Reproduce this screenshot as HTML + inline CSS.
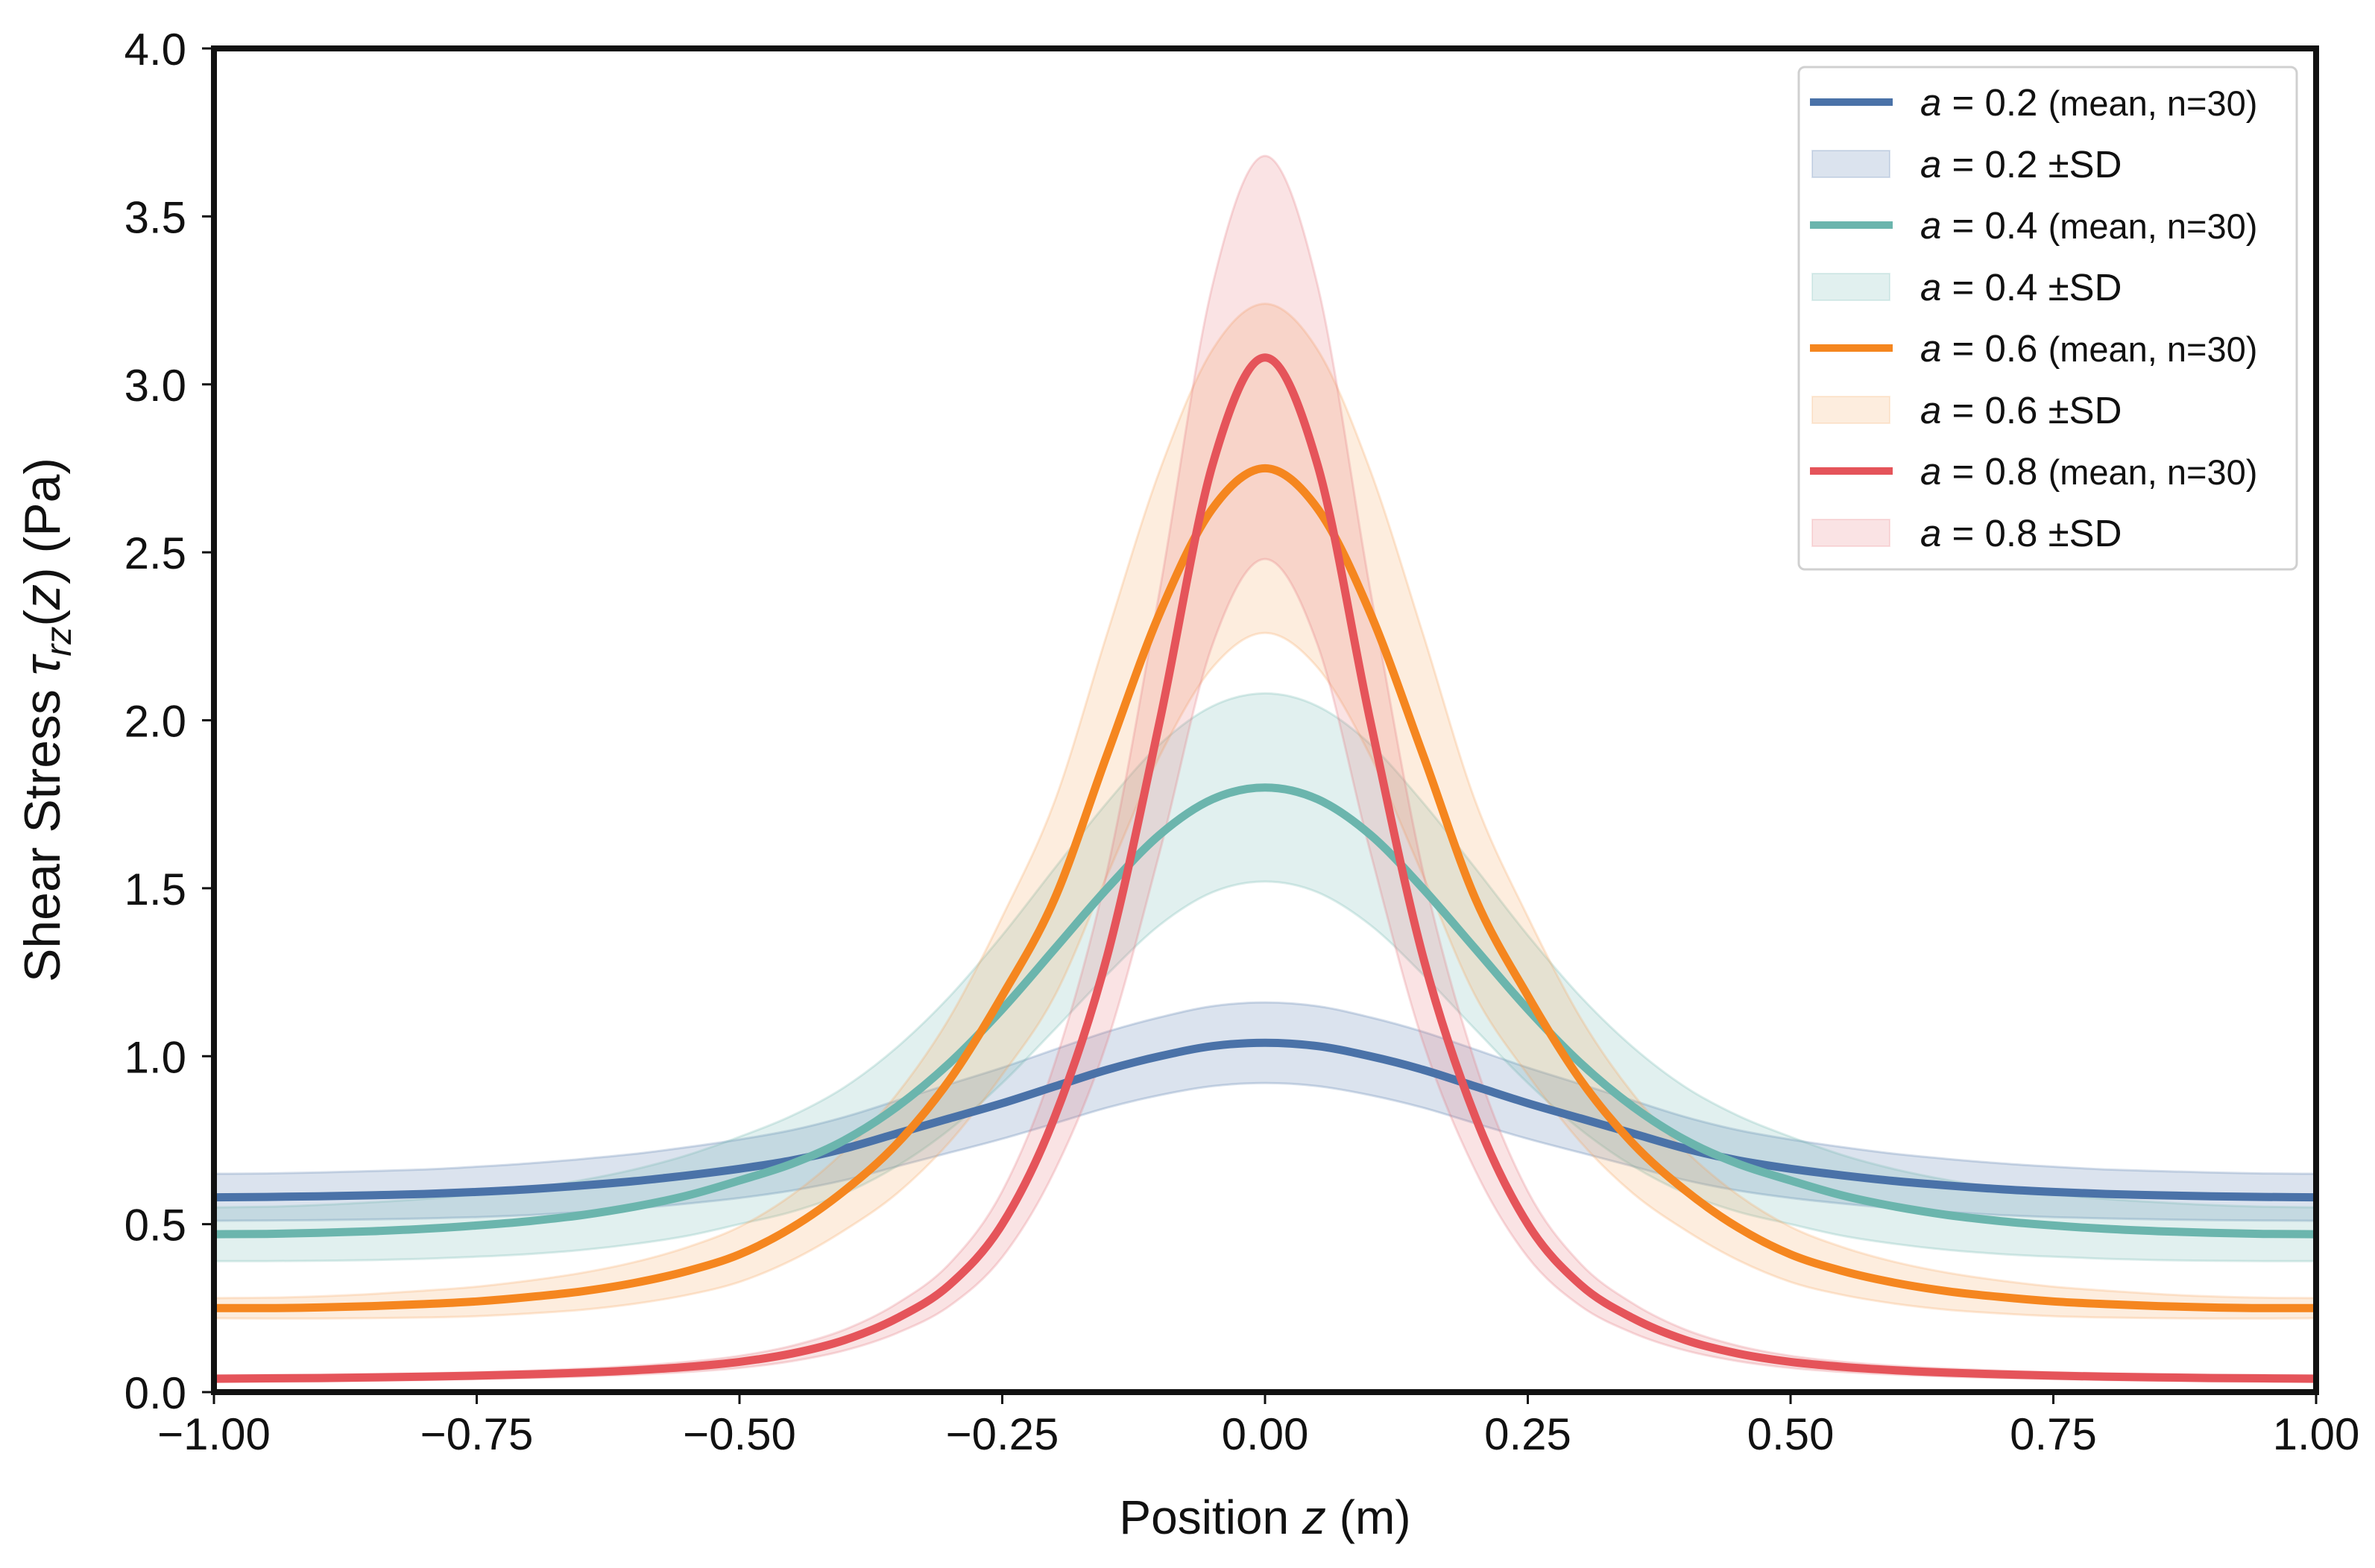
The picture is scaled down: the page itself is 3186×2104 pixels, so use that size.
<!DOCTYPE html>
<html><head><meta charset="utf-8">
<style>
html,body{margin:0;padding:0;background:#fff;}
svg{display:block;font-family:"Liberation Sans",Arial,sans-serif;}
</style></head>
<body>
<svg id="chart" width="3186" height="2104" viewBox="0 0 3186 2104" xmlns="http://www.w3.org/2000/svg">
<rect x="0" y="0" width="3186" height="2104" fill="#fff"/>
<g id="bands"></g>
<g id="lines"></g>
<g id="axes"></g>
<g id="legend"></g>
</svg>
<script>
const zValues = [-1,-0.95,-0.9,-0.85,-0.8,-0.75,-0.7,-0.65,-0.6,-0.55,-0.5,-0.45,-0.4,-0.35,-0.3,-0.25,-0.2,-0.15,-0.1,-0.05,0,0.05,0.1,0.15,0.2,0.25,0.3,0.35,0.4,0.45,0.5,0.55,0.6,0.65,0.7,0.75,0.8,0.85,0.9,0.95,1];
const meanA02 = [0.58,0.581,0.583,0.586,0.59,0.596,0.604,0.615,0.628,0.645,0.665,0.69,0.725,0.77,0.815,0.86,0.91,0.96,1.0,1.03,1.04,1.03,1.0,0.96,0.91,0.86,0.815,0.77,0.725,0.69,0.665,0.645,0.628,0.615,0.604,0.596,0.59,0.586,0.583,0.581,0.58];
const sdA02 = [0.07,0.07,0.071,0.072,0.073,0.075,0.077,0.079,0.081,0.084,0.087,0.09,0.094,0.098,0.102,0.106,0.11,0.113,0.116,0.119,0.12,0.119,0.116,0.113,0.11,0.106,0.102,0.098,0.094,0.09,0.087,0.084,0.081,0.079,0.077,0.075,0.073,0.072,0.071,0.07,0.07];
const meanA04 = [0.47,0.471,0.474,0.479,0.486,0.496,0.509,0.527,0.552,0.585,0.63,0.68,0.75,0.85,0.98,1.14,1.32,1.5,1.66,1.765,1.80,1.765,1.66,1.5,1.32,1.14,0.98,0.85,0.75,0.68,0.63,0.585,0.552,0.527,0.509,0.496,0.486,0.479,0.474,0.471,0.47];
const sdA04 = [0.08,0.081,0.083,0.086,0.089,0.093,0.098,0.104,0.111,0.12,0.13,0.143,0.158,0.177,0.198,0.22,0.24,0.256,0.269,0.277,0.28,0.277,0.269,0.256,0.24,0.22,0.198,0.177,0.158,0.143,0.13,0.12,0.111,0.104,0.098,0.093,0.089,0.086,0.083,0.081,0.08];
const meanA06 = [0.25,0.25,0.252,0.256,0.262,0.27,0.283,0.3,0.325,0.36,0.41,0.49,0.6,0.74,0.93,1.18,1.47,1.9,2.32,2.63,2.75,2.63,2.32,1.9,1.47,1.18,0.93,0.74,0.6,0.49,0.41,0.36,0.325,0.3,0.283,0.27,0.262,0.256,0.252,0.25,0.25];
const sdA06 = [0.03,0.031,0.033,0.036,0.04,0.044,0.049,0.055,0.062,0.071,0.082,0.097,0.118,0.148,0.185,0.235,0.29,0.36,0.425,0.473,0.49,0.473,0.425,0.36,0.29,0.235,0.185,0.148,0.118,0.097,0.082,0.071,0.062,0.055,0.049,0.044,0.04,0.036,0.033,0.031,0.03];
const meanA08 = [0.04,0.041,0.042,0.044,0.046,0.049,0.053,0.058,0.065,0.075,0.09,0.115,0.155,0.22,0.32,0.5,0.82,1.3,2.0,2.76,3.08,2.76,2.0,1.3,0.82,0.5,0.32,0.22,0.155,0.115,0.09,0.075,0.065,0.058,0.053,0.049,0.046,0.044,0.042,0.041,0.04];
const sdA08 = [0.01,0.01,0.01,0.01,0.01,0.01,0.011,0.012,0.013,0.015,0.018,0.023,0.031,0.044,0.063,0.098,0.16,0.255,0.39,0.535,0.6,0.535,0.39,0.255,0.16,0.098,0.063,0.044,0.031,0.023,0.018,0.015,0.013,0.012,0.011,0.01,0.01,0.01,0.01,0.01,0.01];
const seriesLabels = ["0.2","0.4","0.6","0.8"];
const xTickValues = [-1,-0.75,-0.5,-0.25,0,0.25,0.5,0.75,1];
const xTickLabels = ["\u22121.00","\u22120.75","\u22120.50","\u22120.25","0.00","0.25","0.50","0.75","1.00"];
const yTickValues = [0,0.5,1,1.5,2,2.5,3,3.5,4];
const yTickLabels = ["0.0","0.5","1.0","1.5","2.0","2.5","3.0","3.5","4.0"];

const NS = "http://www.w3.org/2000/svg";
const L = 287, R = 3107, T = 65, B = 1868;
const xMin = -1, xMax = 1, yMin = 0, yMax = 4;
function xs(v){ return L + (v - xMin) / (xMax - xMin) * (R - L); }
function ys(v){ return B - (v - yMin) / (yMax - yMin) * (B - T); }
function mk(tag, attrs, parent){ const e = document.createElementNS(NS, tag); for (const k in attrs) e.setAttribute(k, attrs[k]); if (parent) parent.appendChild(e); return e; }

// central-difference cubic with Fritsch-Carlson limiting
function tangents(pts){
  const n = pts.length, m = [];
  for (let i = 0; i < n-1; i++) m.push((pts[i+1][1]-pts[i][1])/(pts[i+1][0]-pts[i][0]));
  const t = [m[0]];
  for (let i = 1; i < n-1; i++) t.push(m[i-1]*m[i] <= 0 ? 0 : (m[i-1]+m[i])/2);
  t.push(m[n-2]);
  for (let i = 0; i < n-1; i++){
    if (m[i] === 0){ t[i] = 0; t[i+1] = 0; continue; }
    const a = t[i]/m[i], b = t[i+1]/m[i], s = a*a + b*b;
    if (s > 9){ const k = 3/Math.sqrt(s); t[i] = k*a*m[i]; t[i+1] = k*b*m[i]; }
  }
  return t;
}
function segs(pts, t){
  let d = "";
  for (let i = 0; i < pts.length-1; i++){
    const h = (pts[i+1][0]-pts[i][0])/3;
    d += "C" + (pts[i][0]+h).toFixed(1) + "," + (pts[i][1]+t[i]*h).toFixed(1) + " " + (pts[i+1][0]-h).toFixed(1) + "," + (pts[i+1][1]-t[i+1]*h).toFixed(1) + " " + pts[i+1][0].toFixed(1) + "," + pts[i+1][1].toFixed(1);
  }
  return d;
}
function smoothPath(pts){
  return "M" + pts[0][0].toFixed(1) + "," + pts[0][1].toFixed(1) + segs(pts, tangents(pts));
}
function reversePath(pts){
  const t = tangents(pts);
  const rp = pts.slice().reverse(), rt = t.slice().reverse();
  let d = "L" + rp[0][0].toFixed(1) + "," + rp[0][1].toFixed(1);
  for (let i = 0; i < rp.length-1; i++){
    const h = (rp[i+1][0]-rp[i][0])/3;
    d += "C" + (rp[i][0]+h).toFixed(1) + "," + (rp[i][1]+rt[i]*h).toFixed(1) + " " + (rp[i+1][0]-h).toFixed(1) + "," + (rp[i+1][1]-rt[i+1]*h).toFixed(1) + " " + rp[i+1][0].toFixed(1) + "," + rp[i+1][1].toFixed(1);
  }
  return d;
}

const series = [
  {mean: meanA02, sd: sdA02, line: "#4a72a8", fill: "#4a72a8", name: "a-0-2"},
  {mean: meanA04, sd: sdA04, line: "#6bb5ad", fill: "#6bb5ad", name: "a-0-4"},
  {mean: meanA06, sd: sdA06, line: "#f5861f", fill: "#f7a35c", name: "a-0-6"},
  {mean: meanA08, sd: sdA08, line: "#e5545a", fill: "#e5747a", name: "a-0-8"}
];

const bandsG = document.getElementById("bands");
const linesG = document.getElementById("lines");
series.forEach(function(s){
  const up = zValues.map(function(z, i){ return [xs(z), ys(s.mean[i] + s.sd[i])]; });
  const lo = zValues.map(function(z, i){ return [xs(z), ys(s.mean[i] - s.sd[i])]; });
  const band = mk("path", {d: smoothPath(up) + reversePath(lo) + "Z", fill: s.fill, "fill-opacity": "0.2", stroke: s.fill, "stroke-opacity": "0.25", "stroke-width": "3"}, bandsG);
  
  
});
series.forEach(function(s){
  const pts = zValues.map(function(z, i){ return [xs(z), ys(s.mean[i])]; });
  const ln = mk("path", {d: smoothPath(pts), fill: "none", stroke: s.line, "stroke-width": "11", "stroke-linejoin": "round", "stroke-linecap": "butt"}, linesG);
  
  
});

const axesG = document.getElementById("axes");
const frame = mk("rect", {x: L, y: T, width: R-L, height: B-T, fill: "none", stroke: "#111", "stroke-width": "8"}, axesG);


xTickValues.forEach(function(v, i){
  const x = xs(v);
  const tk = mk("line", {x1: x, y1: B, x2: x, y2: B + 16, stroke: "#111", "stroke-width": "3"}, axesG);
  
  
  const t = mk("text", {x: x, y: 1945, "text-anchor": "middle", "font-size": "60", fill: "#111"}, axesG);
  t.textContent = xTickLabels[i];
  
  
});
yTickValues.forEach(function(v, i){
  const y = ys(v);
  const tk = mk("line", {x1: L - 16, y1: y, x2: L, y2: y, stroke: "#111", "stroke-width": "3"}, axesG);
  
  
  const t = mk("text", {x: 250, y: y + 22, "text-anchor": "end", "font-size": "60", fill: "#111"}, axesG);
  t.textContent = yTickLabels[i];
  
  
});
</script>
<script>
(function(){
  const NS = "http://www.w3.org/2000/svg";
  const svg = document.getElementById("chart");
  const xl = document.createElementNS(NS, "text");
  xl.setAttribute("x", "1697"); xl.setAttribute("y", "2058"); xl.setAttribute("text-anchor", "middle");
  xl.setAttribute("font-size", "64"); xl.setAttribute("fill", "#111");
  xl.innerHTML = 'Position <tspan font-style="italic">z</tspan> (m)';
  
  
  svg.appendChild(xl);
  const yl = document.createElementNS(NS, "text");
  yl.setAttribute("transform", "translate(80,966) rotate(-90)"); yl.setAttribute("text-anchor", "middle");
  yl.setAttribute("font-size", "68"); yl.setAttribute("fill", "#111");
  yl.innerHTML = 'Shear Stress <tspan font-style="italic">τ</tspan><tspan font-style="italic" font-size="48" dy="15">rz</tspan><tspan dy="-15">(</tspan><tspan font-style="italic">z</tspan>) (Pa)';
  
  
  svg.appendChild(yl);

  const lg = document.getElementById("legend");
  const box = document.createElementNS(NS, "rect");
  box.setAttribute("x", "2413"); box.setAttribute("y", "90"); box.setAttribute("width", "668"); box.setAttribute("height", "674");
  box.setAttribute("rx", "8"); box.setAttribute("fill", "#fff"); box.setAttribute("fill-opacity", "0.85");
  box.setAttribute("stroke", "#d0d0d0"); box.setAttribute("stroke-width", "3");
  
  
  lg.appendChild(box);
  const cols = [["#4a72a8","#4a72a8"],["#6bb5ad","#6bb5ad"],["#f5861f","#f7a35c"],["#e5545a","#e5747a"]];
  const labs = ["0.2","0.4","0.6","0.8"];
  const rowY = [137,220,302,385,467,550,632,715];
  for (let i = 0; i < 4; i++){
    const yA = rowY[2*i], yB = rowY[2*i+1];
    const ln = document.createElementNS(NS, "line");
    ln.setAttribute("x1", "2428"); ln.setAttribute("x2", "2539"); ln.setAttribute("y1", yA); ln.setAttribute("y2", yA);
    ln.setAttribute("stroke", cols[i][0]); ln.setAttribute("stroke-width", "10");
    
    
    lg.appendChild(ln);
    const t1 = document.createElementNS(NS, "text");
    t1.setAttribute("x", "2576"); t1.setAttribute("y", yA + 18); t1.setAttribute("font-size", "51"); t1.setAttribute("fill", "#111");
    t1.innerHTML = '<tspan font-style="italic">a</tspan> = ' + labs[i] + ' <tspan font-size="47">(mean, n=30)</tspan>';
    
    
    lg.appendChild(t1);
    const sw = document.createElementNS(NS, "rect");
    sw.setAttribute("x", "2431"); sw.setAttribute("y", yB - 18); sw.setAttribute("width", "104"); sw.setAttribute("height", "36");
    sw.setAttribute("fill", cols[i][1]); sw.setAttribute("fill-opacity", "0.2");
    sw.setAttribute("stroke", cols[i][1]); sw.setAttribute("stroke-opacity", "0.2"); sw.setAttribute("stroke-width", "2");
    
    
    lg.appendChild(sw);
    const t2 = document.createElementNS(NS, "text");
    t2.setAttribute("x", "2576"); t2.setAttribute("y", yB + 18); t2.setAttribute("font-size", "51"); t2.setAttribute("fill", "#111");
    t2.innerHTML = '<tspan font-style="italic">a</tspan> = ' + labs[i] + ' ±SD';
    
    
    lg.appendChild(t2);
  }
})();
</script>
</body></html>
